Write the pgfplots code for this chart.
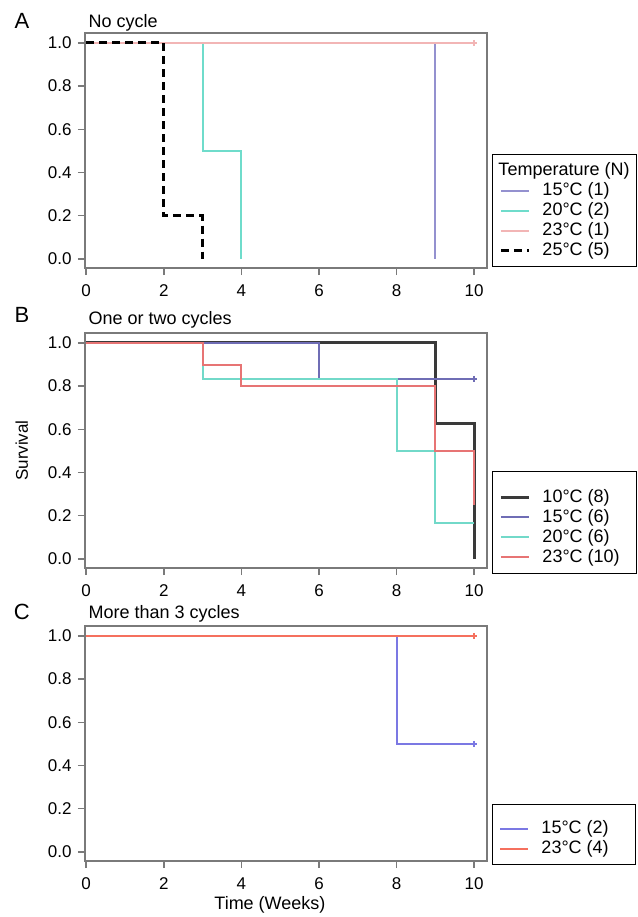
\documentclass[border=0pt]{standalone}
\usepackage{pgfplots}
\pgfplotsset{compat=1.18}
\usepackage{fontspec}
\setmainfont{Liberation Sans}

\definecolor{cA15}{HTML}{9491CF}
\definecolor{cA20}{HTML}{6FDCCB}
\definecolor{cA23}{HTML}{F2B5B5}
\definecolor{cB10}{HTML}{3A3A3A}
\definecolor{cB15}{HTML}{6F6DB5}
\definecolor{cB20}{HTML}{72D9C9}
\definecolor{cB23}{HTML}{E77474}
\definecolor{cC15}{HTML}{7B78E3}
\definecolor{cC23}{HTML}{F5705E}
\definecolor{framec}{HTML}{7A7A7A}

\newcommand\lstrut{\rule{0pt}{15pt}}
\newcommand\lent[1]{\makebox[87pt][l]{#1}\lstrut}

\pgfplotsset{
  km/.style={
    width=402pt, height=235pt, scale only axis,
    xmin=-0.03, xmax=10.33, ymin=-0.042, ymax=1.046,
    xtick={0,2,4,6,8,10}, ytick={0,0.2,0.4,0.6,0.8,1.0},
    yticklabel style={xshift=-3pt, /pgf/number format/.cd, fixed, fixed zerofill, precision=1},
    /pgf/number format/assume math mode=true,
    tick align=outside, xtick pos=bottom, ytick pos=left,
    major tick length=7pt,
    tick style={framec, line width=1.5pt},
    axis line style={framec, line width=2pt},
    ticklabel style={font=\fontsize{17}{19}\selectfont},
    xticklabel style={yshift=-6pt},
    legend cell align=left,
    legend image code/.code={\draw[##1] (0pt,0pt) -- (28pt,0pt);},
    legend style={draw=black, line width=1pt, inner xsep=7pt, inner ysep=6pt,
      column sep=12pt, font=\fontsize{18}{20}\selectfont,
      nodes={inner sep=0pt, text depth=5pt}, anchor=north west, fill=white},
    clip=false,
  },
  ln/.style={line width=2pt, const plot},
}

\begin{document}
\begin{tikzpicture}
\path[use as bounding box] (0pt,0pt) rectangle (637pt,-917pt);

% ---------------- Panel A
\begin{axis}[km, at={(85pt,-268pt)}, anchor=south west,
  legend style={at={(axis description cs:1.0124,0.485)}}]
\addlegendimage{empty legend}
\addlegendentry{\lent{\hspace{-44pt}Temperature (N)}}
\addplot[cA15, ln] coordinates {(0,1) (9,0)};
\addlegendentry{\lent{15°C (1)}}
\addplot[cA20, ln] coordinates {(0,1) (3,0.5) (4,0)};
\addlegendentry{\lent{20°C (2)}}
\addplot[cA23, ln, mark=+, mark size=3pt, mark indices={2}] coordinates {(0,1) (10,1)};
\addlegendentry{\lent{23°C (1)}}
\addplot[black, ln, line width=3pt, dash pattern=on 8pt off 5pt] coordinates {(0,1) (2,0.2) (3,0)};
\addlegendentry{\lent{25°C (5)}}
\node[anchor=center, font=\fontsize{22}{24}\selectfont] at (axis description cs:-0.157,1.051) {A};
\node[anchor=west, font=\fontsize{18}{20}\selectfont] at (axis description cs:0,1.043) {No cycle};
\end{axis}

% ---------------- Panel B
\begin{axis}[km, at={(85pt,-568pt)}, anchor=south west,
  ylabel={Survival},
  ylabel style={at={(axis description cs:-0.157,0.5)}, anchor=center, font=\fontsize{17}{19}\selectfont},
  legend style={at={(axis description cs:1.0124,0.4128)}}]
\addlegendimage{empty legend}
\addlegendentry{\rule{0pt}{5pt}}
\addplot[cB10, ln, line width=3pt] coordinates {(0,1) (9,0.625) (10,0)};
\addlegendentry{\lent{10°C (8)}}
\addplot[cB15, ln, mark=+, mark size=3pt, mark indices={3}] coordinates {(0,1) (6,0.8333) (10,0.8333)};
\addlegendentry{\lent{15°C (6)}}
\addplot[cB20, ln] coordinates {(0,1) (3,0.8333) (8,0.5) (9,0.1667) (10,0.1667)};
\addlegendentry{\lent{20°C (6)}}
\addplot[cB23, ln] coordinates {(0,1) (3,0.9) (4,0.8) (9,0.5) (10,0.25)};
\addlegendentry{\lent{23°C (10)}}
\node[anchor=center, font=\fontsize{22}{24}\selectfont] at (axis description cs:-0.157,1.077) {B};
\node[anchor=west, font=\fontsize{18}{20}\selectfont] at (axis description cs:0,1.055) {One or two cycles};
\end{axis}

% ---------------- Panel C
\begin{axis}[km, at={(85pt,-861pt)}, anchor=south west,
  xlabel={Time (Weeks)},
  xlabel style={at={(axis description cs:0.46,-0.187)}, anchor=center, font=\fontsize{18}{20}\selectfont},
  legend style={at={(axis description cs:1.0124,0.2426)}}]
\addlegendimage{empty legend}
\addlegendentry{\rule{0pt}{3pt}}
\addplot[cC15, ln, mark=+, mark size=3pt, mark indices={3}] coordinates {(0,1) (8,0.5) (10,0.5)};
\addlegendentry{\lent{15°C (2)}}
\addplot[cC23, ln, mark=+, mark size=3pt, mark indices={2}] coordinates {(0,1) (10,1)};
\addlegendentry{\lent{23°C (4)}}
\node[anchor=center, font=\fontsize{22}{24}\selectfont] at (axis description cs:-0.157,1.06) {C};
\node[anchor=west, font=\fontsize{18}{20}\selectfont] at (axis description cs:0,1.051) {More than 3 cycles};
\end{axis}
\end{tikzpicture}
\end{document}
